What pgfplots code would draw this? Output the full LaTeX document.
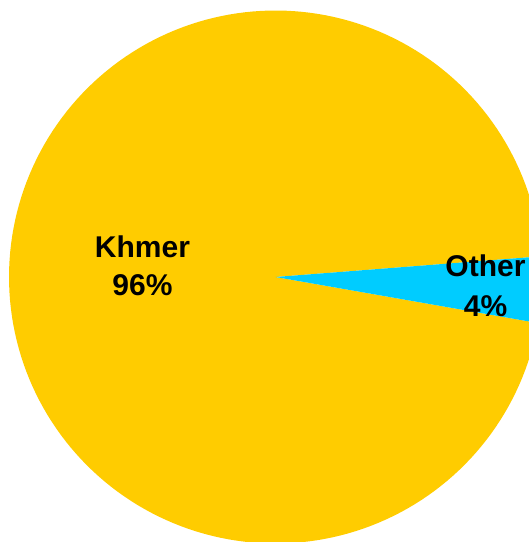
\documentclass[border=0pt]{standalone}
\usepackage{pgfplots}
\usepackage{pgfplotstable}
\pgfplotsset{compat=1.18}
\usepackage{fontspec}
\setmainfont{Liberation Sans}
\definecolor{khmer}{HTML}{FFCC00}
\definecolor{other}{HTML}{00CCFF}
% share (%) of each slice
\pgfplotstableread{
label  share
Khmer  96
Other  4
}\piedata
\pgfplotstablegetelem{0}{share}\of\piedata \let\shareK\pgfplotsretval
\pgfplotstablegetelem{1}{share}\of\piedata \let\shareO\pgfplotsretval
\pgfmathsetmacro{\startO}{-9.95}
\pgfmathsetmacro{\endO}{\startO+3.6*\shareO}
\pgfmathsetmacro{\endK}{\endO+3.6*\shareK}
\def\cx{275.5}
\def\cy{265}
\def\rr{266.5}
\begin{document}
\begin{tikzpicture}
\begin{axis}[
  width=529pt, height=542pt, scale only axis,
  xmin=0, xmax=529, ymin=0, ymax=542,
  hide axis, clip=true,
]
\path[draw=none] (rel axis cs:0,0) rectangle (rel axis cs:1,1);
\addplot[fill=khmer, draw=none, domain=\endO:\endK, samples=200, variable=\t]
  ({\cx+\rr*cos(\t)},{\cy+\rr*sin(\t)}) -- (axis cs:\cx,\cy) -- cycle;
\addplot[fill=other, draw=none, domain=\startO:\endO, samples=30, variable=\t]
  ({\cx+\rr*cos(\t)},{\cy+\rr*sin(\t)}) -- (axis cs:\cx,\cy) -- cycle;
\node[font=\fontsize{30}{36}\selectfont\bfseries, anchor=base, inner sep=0pt] at (axis cs:142.5,284) {Khmer};
\node[font=\fontsize{30}{36}\selectfont\bfseries, anchor=base, inner sep=0pt] at (axis cs:142.5,246) {96\%};
\node[font=\fontsize{30}{36}\selectfont\bfseries, anchor=base, inner sep=0pt] at (axis cs:485.5,265) {Other};
\node[font=\fontsize{30}{36}\selectfont\bfseries, anchor=base, inner sep=0pt] at (axis cs:485.5,225) {4\%};
\end{axis}
\end{tikzpicture}
\end{document}
